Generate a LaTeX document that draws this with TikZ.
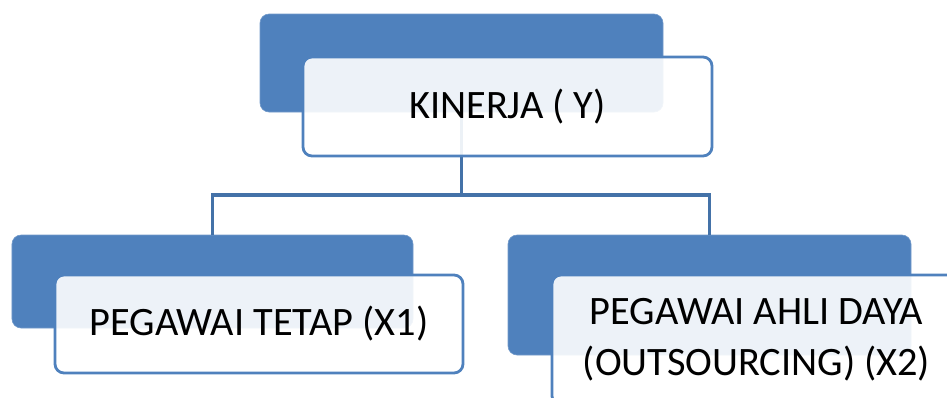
\documentclass[tikz,border=0pt]{standalone}
\usepackage{fontspec}
\setmainfont{Carlito}
\definecolor{boxblue}{RGB}{79,129,189}
\definecolor{linkblue}{RGB}{68,114,168}
\tikzset{
backbox/.style = {fill = boxblue, draw = boxblue!80!white, line width = 0.6bp, rounded corners = 9bp, inner sep = 0},
frontbox/.style = {fill = white, fill opacity = 0.9, text opacity = 1, draw = boxblue, line width = 2.8bp, rounded corners = 9bp, align = center, inner sep = 0, font = \fontsize{40.5}{51}\selectfont},
link/.style = {draw = linkblue, line width = 3.6bp}
}
\begin{document}
\begin{tikzpicture}[x = 1bp, y = -1bp]
\useasboundingbox (0,0) rectangle (947,397);
\clip (0,0) rectangle (947,397);
\node[backbox, minimum width = 403bp, minimum height = 98bp] (yback) at (461.5,63) {};
\node[backbox, minimum width = 401bp, minimum height = 93bp] (xoneback) at (212.5,281.5) {};
\node[backbox, minimum width = 403bp, minimum height = 120bp] (xtwoback) at (709.5,295) {};
\coordinate (split) at (461.5,195);
\draw[link] (yback.south) -- (split);
\draw[link] (xoneback.north) |- (split) -| (xtwoback.north);
\node[frontbox, minimum width = 409bp, minimum height = 99bp] (y) at (507.5,106.5) {KINERJA ( Y)};
\node[frontbox, minimum width = 408bp, minimum height = 98bp] (xone) at (259,324) {PEGAWAI TETAP (X1)};
\node[frontbox, minimum width = 409bp, minimum height = 130bp] (xtwo) at (756.5,340) {PEGAWAI AHLI DAYA\\(OUTSOURCING) (X2)};
\end{tikzpicture}
\end{document}
